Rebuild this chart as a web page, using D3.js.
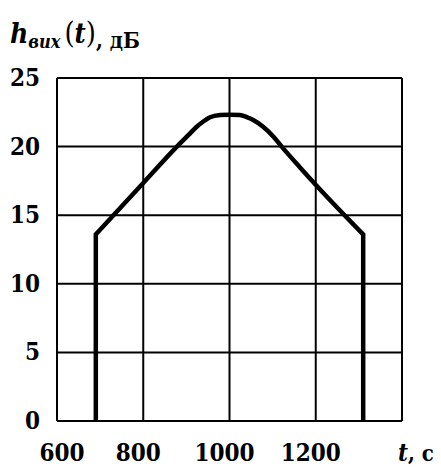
<!DOCTYPE html>
<html>
<head>
<meta charset="utf-8">
<script src="https://cdn.jsdelivr.net/npm/d3@7"></script>
<style>
  html, body { margin: 0; padding: 0; background: #fff; }
  svg { display: block; }
  text { font-family: "DejaVu Serif Condensed", "DejaVu Serif", serif; font-stretch: condensed; fill: #000; }
</style>
</head>
<body>
<svg id="chart" width="441" height="470"></svg>
<script>
// Output level h_вих(t), dB, versus time t, s
const timeS   = [690, 800, 878, 905, 924, 940, 955, 978, 1000, 1024, 1040, 1055, 1078, 1102, 1121, 1163, 1202, 1310];
const levelDb = [13.6, 17.35, 20.0, 20.85, 21.45, 21.85, 22.14, 22.3, 22.33, 22.3, 22.15, 21.94, 21.45, 20.72, 20.0, 18.5, 17.15, 13.6];

const xTicks = [600, 800, 1000, 1200];
const yTicks = [0, 5, 10, 15, 20, 25];
const xGrid  = [600, 800, 1000, 1200, 1400];

const svg = d3.select("#chart");
const plotL = 57, plotR = 402, plotT = 78, plotB = 421;

const x = d3.scaleLinear().domain([600, 1400]).range([plotL, plotR]);
const y = d3.scaleLinear().domain([0, 25]).range([plotB, plotT]);

// grid lines
const g = svg.append("g").attr("stroke", "#000").attr("stroke-width", 2);
g.selectAll("line.v").data(xGrid).join("line")
  .attr("class", "v")
  .attr("x1", d => x(d)).attr("x2", d => x(d))
  .attr("y1", y(0)).attr("y2", y(25));
g.selectAll("line.h").data(yTicks).join("line")
  .attr("class", "h")
  .attr("x1", x(600)).attr("x2", x(1400))
  .attr("y1", d => y(d)).attr("y2", d => y(d));

// tick labels
svg.append("g").selectAll("text").data(yTicks).join("text")
  .attr("x", 40).attr("y", d => y(d) + 8)
  .attr("text-anchor", "end")
  .attr("font-weight", "bold")
  .attr("font-size", 24)
  .text(d => d);

svg.append("g").selectAll("text").data(xTicks).join("text")
  .attr("x", d => x(d) + (d === 600 ? 5 : -5)).attr("y", 461)
  .attr("text-anchor", "middle")
  .attr("font-weight", "bold")
  .attr("font-size", 24)
  .text(d => d);

// curve: vertical rise, smooth dome, vertical fall
const pts = timeS.map((t, i) => [t, levelDb[i]]);
const line = d3.line().x(d => x(d[0])).y(d => y(d[1])).curve(d3.curveMonotoneX);
const mid = line(pts).replace(/^M/, "L");
const first = pts[0], last = pts[pts.length - 1];
const pathD = `M${x(first[0])},${y(0)}` + mid + `L${x(last[0])},${y(0)}`;
svg.append("path")
  .attr("d", pathD)
  .attr("fill", "none")
  .attr("stroke", "#000")
  .attr("stroke-width", 4.5)
  .attr("stroke-linejoin", "miter");

// axis titles
const yt = svg.append("text").attr("x", 10).attr("y", 43);
yt.append("tspan").attr("font-style", "italic").attr("font-weight", "bold").attr("font-size", 28).text("h");
yt.append("tspan").attr("font-style", "italic").attr("font-weight", "bold").attr("font-size", 18).attr("dy", 5).text("вих");
yt.append("tspan").attr("font-size", 29).attr("dy", -5).attr("dx", 4).text("(");
yt.append("tspan").attr("font-style", "italic").attr("font-weight", "bold").attr("font-size", 27).text("t");
yt.append("tspan").attr("font-size", 29).text(")");
yt.append("tspan").attr("font-size", 22).attr("font-weight", "bold").attr("dy", 5).text(", дБ");

const xt = svg.append("text").attr("x", 398).attr("y", 461);
xt.append("tspan").attr("font-style", "italic").attr("font-weight", "bold").attr("font-size", 24).text("t");
xt.append("tspan").attr("font-size", 22).attr("font-weight", "bold").text(", с");
</script>
</body>
</html>
